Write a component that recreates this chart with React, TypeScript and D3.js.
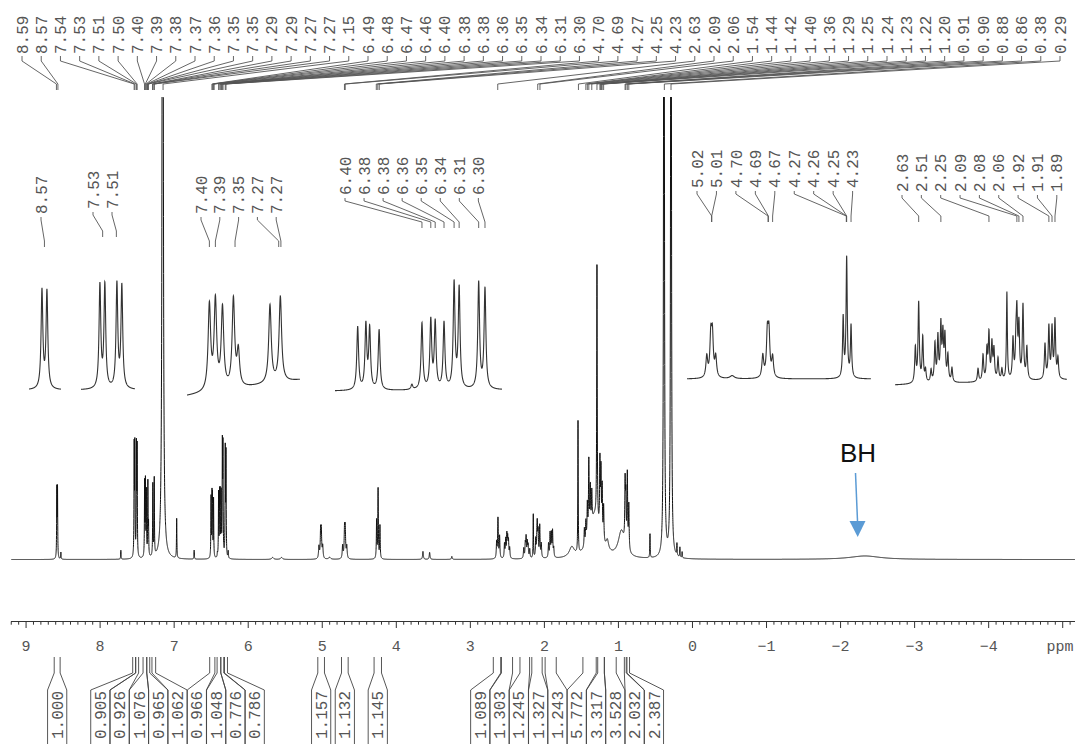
import React, { useEffect, useRef } from "react";
import * as d3 from "d3";

type Peak = [number, number, number]; // ppm, height, line width (ppm)

// ---- main 1D trace ----
const mainPeaks: Peak[] = [
  [8.5845, 68, 0.006], [8.5755, 68, 0.006], [8.53, 7, 0.006],
  [7.72, 9, 0.006],
  [7.54, 108, 0.006], [7.531, 108, 0.006], [7.509, 108, 0.006], [7.5, 106, 0.006],
  [7.399, 74, 0.006], [7.388, 74, 0.006], [7.375, 64, 0.006], [7.355, 74, 0.006], [7.346, 30, 0.006],
  [7.288, 72, 0.006], [7.269, 77, 0.006],
  [7.155, 1500, 0.012],
  [6.966, 40, 0.006], [6.73, 9, 0.006],
  [6.502, 60, 0.006], [6.489, 56, 0.006], [6.483, 54, 0.006], [6.468, 58, 0.006],
  [6.416, 4, 0.006],
  [6.4, 64, 0.006], [6.386, 58, 0.006], [6.379, 58, 0.006], [6.365, 62, 0.006],
  [6.349, 108, 0.006], [6.341, 105, 0.006], [6.31, 106, 0.006], [6.3, 102, 0.006],
  [6.27, 7, 0.006],
  [5.67, 2, 0.03], [5.55, 2, 0.03],
  [5.045, 12, 0.012], [5.022, 25, 0.012], [5.013, 25, 0.012], [4.994, 12, 0.012],
  [4.9, 2, 0.03],
  [4.725, 13, 0.012], [4.699, 27, 0.012], [4.69, 27, 0.012], [4.669, 12, 0.012],
  [4.266, 38, 0.008], [4.246, 70, 0.008], [4.221, 33, 0.008],
  [3.64, 8, 0.012], [3.55, 7, 0.012], [3.25, 3, 0.012],
  [2.645, 16, 0.01], [2.627, 40, 0.01], [2.605, 22, 0.01],
  [2.539, 14, 0.01], [2.523, 18, 0.01], [2.507, 22, 0.01], [2.496, 18, 0.01], [2.485, 16, 0.01], [2.469, 10, 0.01],
  [2.279, 10, 0.01], [2.258, 14, 0.01], [2.247, 20, 0.01], [2.231, 15, 0.01], [2.22, 12, 0.01], [2.198, 9, 0.01],
  [2.15, 44, 0.006],
  [2.117, 18, 0.01], [2.101, 16, 0.01], [2.096, 26, 0.01], [2.085, 24, 0.01], [2.063, 32, 0.01], [2.042, 14, 0.01],
  [1.944, 14, 0.01], [1.923, 24, 0.01], [1.906, 23, 0.01], [1.89, 26, 0.01], [1.874, 9, 0.01],
  [1.63, 10, 0.08],
  [1.546, 132, 0.006],
  [1.32, 42, 0.16],
  [1.46, 18, 0.01], [1.44, 22, 0.01], [1.42, 35, 0.01], [1.4, 75, 0.01], [1.38, 42, 0.01], [1.36, 32, 0.01],
  [1.29, 255, 0.008],
  [1.25, 70, 0.01], [1.236, 62, 0.01], [1.22, 50, 0.01], [1.2, 35, 0.01],
  [1.15, 10, 0.04],
  [0.96, 26, 0.1],
  [0.91, 60, 0.01], [0.9, 45, 0.01], [0.88, 74, 0.01], [0.86, 45, 0.01],
  [0.574, 24, 0.006],
  [0.385, 1500, 0.008], [0.29, 1500, 0.008],
  [0.21, 12, 0.006], [0.17, 10, 0.006], [0.14, 6, 0.006],
  [-2.33, 3.5, 0.5],
];

const peakLabels = [
  "8.59", "8.57", "7.54", "7.53", "7.51", "7.50", "7.40", "7.39", "7.38", "7.37", "7.36", "7.35", "7.35",
  "7.29", "7.29", "7.27", "7.27", "7.15", "6.49", "6.48", "6.47", "6.46", "6.40", "6.38", "6.38", "6.36",
  "6.35", "6.34", "6.31", "6.30", "4.70", "4.69", "4.27", "4.25", "4.23", "2.63", "2.09", "2.06", "1.54",
  "1.44", "1.42", "1.40", "1.36", "1.29", "1.25", "1.24", "1.23", "1.22", "1.20", "0.91", "0.90", "0.88",
  "0.86", "0.38", "0.29",
];

const axisTicks = [9, 8, 7, 6, 5, 4, 3, 2, 1, 0, -1, -2, -3, -4];

const integralValues = [
  "1.000", "0.905", "0.926", "1.076", "0.965", "1.062", "0.966", "1.048", "0.776", "0.786",
  "1.157", "1.132", "1.145", "1.089", "1.303", "1.245", "1.327", "1.243", "5.772", "3.317",
  "3.528", "2.032", "2.387",
];
const integralRanges: [number, number][] = [
  [8.62, 8.54], [7.56, 7.52], [7.52, 7.48], [7.42, 7.37], [7.37, 7.33], [7.3, 7.25],
  [6.52, 6.45], [6.42, 6.37], [6.37, 6.33], [6.32, 6.28],
  [5.06, 4.97], [4.74, 4.65], [4.3, 4.2],
  [2.69, 2.59], [2.58, 2.43], [2.33, 2.2], [2.17, 2.03], [1.99, 1.84],
  [1.48, 1.3], [1.28, 1.19], [1.19, 1.03], [0.92, 0.895], [0.885, 0.85],
];

// ---- expansions ----
const insetAPeaks: Peak[] = [[8.5845, 98, 0.0038], [8.5755, 97, 0.0038]];
const insetALabels = ["8.57"];
const insetATargets = [8.58];

const insetBPeaks: Peak[] = [[7.54, 103, 0.0038], [7.531, 103, 0.0038], [7.509, 104, 0.0038], [7.5, 102, 0.0038]];
const insetBLabels = ["7.53", "7.51"];
const insetBTargets = [7.535, 7.51];

const insetCPeaks: Peak[] = [
  [7.399, 85, 0.0055], [7.388, 88, 0.0055], [7.375, 80, 0.0055], [7.355, 88, 0.0055],
  [7.346, 35, 0.0055], [7.288, 78, 0.0055], [7.269, 85, 0.0055],
];
const insetCLabels = ["7.40", "7.39", "7.35", "7.27", "7.27"];
const insetCTargets = [7.399, 7.388, 7.352, 7.272, 7.268];

const insetDPeaks: Peak[] = [
  [6.502, 63, 0.0034], [6.489, 64, 0.0034], [6.483, 60, 0.0034], [6.468, 60, 0.0034], [6.416, 5, 0.0034],
  [6.4, 66, 0.0034], [6.386, 68, 0.0034], [6.379, 66, 0.0034], [6.365, 66, 0.0034],
  [6.349, 105, 0.0034], [6.341, 100, 0.0034], [6.31, 106, 0.0034], [6.3, 100, 0.0034],
];
const insetDLabels = ["6.40", "6.38", "6.38", "6.36", "6.35", "6.34", "6.31", "6.30"];
const insetDTargets = [6.4, 6.386, 6.379, 6.365, 6.349, 6.341, 6.31, 6.3];

const insetEPeaks: Peak[] = [
  [5.045, 21, 0.012], [5.022, 40, 0.012], [5.013, 40, 0.012], [4.994, 20, 0.012],
  [4.9, 3, 0.03],
  [4.725, 22, 0.012], [4.699, 42, 0.012], [4.69, 42, 0.012], [4.669, 20, 0.012],
  [4.266, 60, 0.008], [4.246, 120, 0.008], [4.221, 52, 0.008],
];
const insetELabels = ["5.02", "5.01", "4.70", "4.69", "4.67", "4.27", "4.26", "4.25", "4.23"];
const insetETargets = [5.017, 5.017, 4.695, 4.693, 4.669, 4.248, 4.247, 4.246, 4.221];

const insetFPeaks: Peak[] = [
  [2.645, 35, 0.008], [2.627, 80, 0.008], [2.605, 45, 0.008], [2.59, 12, 0.008],
  [2.56, 12, 0.008], [2.539, 38, 0.008], [2.523, 44, 0.008], [2.507, 55, 0.008], [2.496, 45, 0.008],
  [2.485, 44, 0.008], [2.469, 26, 0.008], [2.447, 14, 0.008],
  [2.306, 13, 0.008], [2.279, 26, 0.008], [2.258, 30, 0.008], [2.247, 46, 0.008], [2.231, 36, 0.008],
  [2.22, 30, 0.008], [2.198, 22, 0.008], [2.177, 11, 0.008],
  [2.15, 88, 0.006],
  [2.117, 40, 0.008], [2.101, 30, 0.008], [2.096, 60, 0.008], [2.085, 52, 0.008], [2.063, 74, 0.008], [2.042, 32, 0.008],
  [1.944, 35, 0.008], [1.923, 52, 0.008], [1.906, 50, 0.008], [1.89, 58, 0.008], [1.874, 20, 0.008],
];
const insetFLabels = ["2.63", "2.51", "2.25", "2.09", "2.08", "2.06", "1.92", "1.91", "1.89"];
const insetFTargets = [2.627, 2.507, 2.247, 2.096, 2.085, 2.063, 1.923, 1.906, 1.89];

// layout of each expansion on the page
const insets = [
  { peaks: insetAPeaks, labels: insetALabels, targets: insetATargets, domain: [8.608, 8.55], range: [29, 61], base: [390, 390], labelX: 41, labelStep: 19, textY: 214, leadEnd: 247 },
  { peaks: insetBPeaks, labels: insetBLabels, targets: insetBTargets, domain: [7.5745, 7.476], range: [81, 135], base: [390, 390], labelX: 93, labelStep: 19, textY: 209, leadEnd: 237 },
  { peaks: insetCPeaks, labels: insetCLabels, targets: insetCTargets, domain: [7.44, 7.233], range: [187, 300], base: [396, 380], labelX: 201, labelStep: 18.8, textY: 214, leadEnd: 247 },
  { peaks: insetDPeaks, labels: insetDLabels, targets: insetDTargets, domain: [6.538, 6.273], range: [335, 502], base: [391, 390], labelX: 345, labelStep: 19.05, textY: 195, leadEnd: 228 },
  { peaks: insetEPeaks, labels: insetELabels, targets: insetETargets, domain: [5.158, 4.107], range: [687, 871], base: [379, 379], labelX: 697, labelStep: 19.45, textY: 188, leadEnd: 222 },
  { peaks: insetFPeaks, labels: insetFLabels, targets: insetFTargets, domain: [2.755, 1.825], range: [895, 1067], base: [385, 380], labelX: 902, labelStep: 19.35, textY: 192, leadEnd: 222 },
];

const MONO = "'Liberation Mono', 'DejaVu Sans Mono', monospace";
const INK = "#555";

function lorentz(peaks: Peak[], ppm: number) {
  let s = 0;
  for (const [c, h, w] of peaks) {
    const g = w / 2;
    const d = ppm - c;
    s += (h * g * g) / (d * d + g * g);
  }
  return s;
}

// spread labels so they don't overlap, clusters centred on the mean of their wanted positions
function spreadLabels(wanted: number[], gap: number) {
  let clusters = wanted.map((w, i) => ({ idx: [i], mean: w }));
  let merged = true;
  while (merged) {
    merged = false;
    for (let i = 0; i < clusters.length - 1; i++) {
      const a = clusters[i], b = clusters[i + 1];
      const aRight = a.mean + ((a.idx.length - 1) / 2) * gap;
      const bLeft = b.mean - ((b.idx.length - 1) / 2) * gap;
      if (bLeft - aRight < gap) {
        const idx = a.idx.concat(b.idx);
        clusters.splice(i, 2, { idx, mean: d3.mean(idx, (k) => wanted[k]) as number });
        merged = true;
        break;
      }
    }
  }
  const out: number[] = [];
  clusters.forEach((c) => c.idx.forEach((k, j) => (out[k] = c.mean + (j - (c.idx.length - 1) / 2) * gap)));
  return out;
}

function Spectrum() {
  const svgRef = useRef<SVGSVGElement>(null);

  useEffect(() => {
    if (!svgRef.current) return;
    document.body.style.margin = "0";

    const width = 1078;
    const height = 744;
    const svg = d3.select(svgRef.current);
    svg.selectAll("*").remove();
    svg.attr("width", width).attr("height", height).style("display", "block").style("background", "#fff");

    const x = d3.scaleLinear().domain([9.2, -5.17]).range([11.26, 1075.3]);
    const y = d3.scaleLinear().domain([0, 100]).range([559.5, 459.5]);

    svg.append("clipPath").attr("id", "specClip")
      .append("rect").attr("x", 0).attr("y", 97).attr("width", width).attr("height", height - 97);

    // main trace
    const xs = d3.range(11.3, 1075, 0.05);
    const line = d3.line<number>()
      .x((px) => px)
      .y((px) => y(lorentz(mainPeaks, x.invert(px))));
    svg.append("path")
      .attr("d", line(xs))
      .attr("fill", "none")
      .attr("stroke", "#111")
      .attr("stroke-width", 1)
      .attr("clip-path", "url(#specClip)");

    // peak picking labels on top
    const labelX = d3.scaleLinear().domain([0, peakLabels.length - 1]).range([22, 1060]);
    const top = svg.append("g");
    peakLabels.forEach((lab, i) => {
      const lx = labelX(i);
      const px = x(parseFloat(lab));
      top.append("text")
        .attr("transform", `translate(${lx},54) rotate(-90)`)
        .attr("dy", "0.35em")
        .attr("font-family", MONO)
        .attr("font-size", 16)
        .attr("fill", INK)
        .text(lab);
      top.append("path")
        .attr("d", `M${lx},56 L${lx},61 L${px},84 L${px},90`)
        .attr("fill", "none")
        .attr("stroke", "#555")
        .attr("stroke-width", 0.9);
    });

    // expansions
    insets.forEach((ins) => {
      const ix = d3.scaleLinear().domain(ins.domain).range(ins.range);
      const base = d3.scaleLinear().domain(ins.range).range(ins.base);
      const pts = d3.range(ins.range[0], ins.range[1], 0.1);
      const l = d3.line<number>()
        .x((px) => px)
        .y((px) => base(px) - lorentz(ins.peaks, ix.invert(px)));
      svg.append("path")
        .attr("d", l(pts))
        .attr("fill", "none")
        .attr("stroke", "#333")
        .attr("stroke-width", 1.1);

      ins.labels.forEach((lab, i) => {
        const lx = ins.labelX + i * ins.labelStep;
        const px = ix(ins.targets[i]);
        const t = ins.textY;
        svg.append("text")
          .attr("transform", `translate(${lx},${t}) rotate(-90)`)
          .attr("dy", "0.35em")
          .attr("font-family", MONO)
          .attr("font-size", 16)
          .attr("fill", INK)
          .text(lab);
        svg.append("path")
          .attr("d", `M${lx},${t + 3} L${lx},${t + 6} L${px},${ins.leadEnd - 6} L${px},${ins.leadEnd}`)
          .attr("fill", "none")
          .attr("stroke", "#555")
          .attr("stroke-width", 0.9);
      });
    });

    // axis
    const axisY = 621.5;
    const ax = svg.append("g");
    ax.append("line")
      .attr("x1", 11).attr("x2", 1075).attr("y1", axisY).attr("y2", axisY)
      .attr("stroke", "#333").attr("stroke-width", 1);
    const minor = d3.range(92, -52, -1).map((k) => k / 10);
    ax.selectAll("line.tick")
      .data(minor)
      .join("line")
      .attr("class", "tick")
      .attr("x1", (d) => x(d)).attr("x2", (d) => x(d))
      .attr("y1", axisY)
      .attr("y2", (d) => axisY + (Math.abs(d - Math.round(d)) < 1e-6 ? 6.5 : 3.2))
      .attr("stroke", "#333").attr("stroke-width", 1);
    ax.selectAll("text.tl")
      .data(axisTicks)
      .join("text")
      .attr("class", "tl")
      .attr("x", (d) => x(d))
      .attr("y", 651)
      .attr("text-anchor", "middle")
      .attr("font-family", MONO)
      .attr("font-size", 15)
      .attr("fill", INK)
      .text((d) => (d < 0 ? "\u2212" + Math.abs(d) : String(d)));
    ax.append("text")
      .attr("x", 1060).attr("y", 651)
      .attr("text-anchor", "middle")
      .attr("font-family", MONO)
      .attr("font-size", 15)
      .attr("fill", INK)
      .text("ppm");

    // integrals
    const wanted = integralRanges.map(([a, b]) => (x(a) + x(b)) / 2);
    const centres = spreadLabels(wanted, 19.3);
    const ig = svg.append("g");
    integralRanges.forEach(([a, b], i) => {
      const c = centres[i];
      const xl = x(a), xr = x(b);
      ig.append("path")
        .attr("d", `M${xl},657 L${xl},673 L${c - 9.6},690 L${c - 9.6},744 M${xr},657 L${xr},673 L${c + 9.6},690 L${c + 9.6},744`)
        .attr("fill", "none")
        .attr("stroke", "#444")
        .attr("stroke-width", 0.9);
      ig.append("text")
        .attr("transform", `translate(${c},739) rotate(-90)`)
        .attr("dy", "0.35em")
        .attr("font-family", MONO)
        .attr("font-size", 16)
        .attr("fill", INK)
        .text(integralValues[i]);
    });

    // BH annotation
    svg.append("text")
      .attr("x", 858).attr("y", 462)
      .attr("text-anchor", "middle")
      .attr("font-family", "'Liberation Sans', Arial, sans-serif")
      .attr("font-size", 26)
      .attr("fill", "#111")
      .text("BH");
    svg.append("line")
      .attr("x1", 855.5).attr("y1", 473).attr("x2", 857.6).attr("y2", 523)
      .attr("stroke", "#5B9BD5").attr("stroke-width", 1.5);
    svg.append("path")
      .attr("d", "M849.5,521 L865.5,521 L857.7,537 Z")
      .attr("fill", "#5B9BD5");
  }, []);

  return <svg ref={svgRef}></svg>;
}

export default function App() {
  return <Spectrum />;
}
